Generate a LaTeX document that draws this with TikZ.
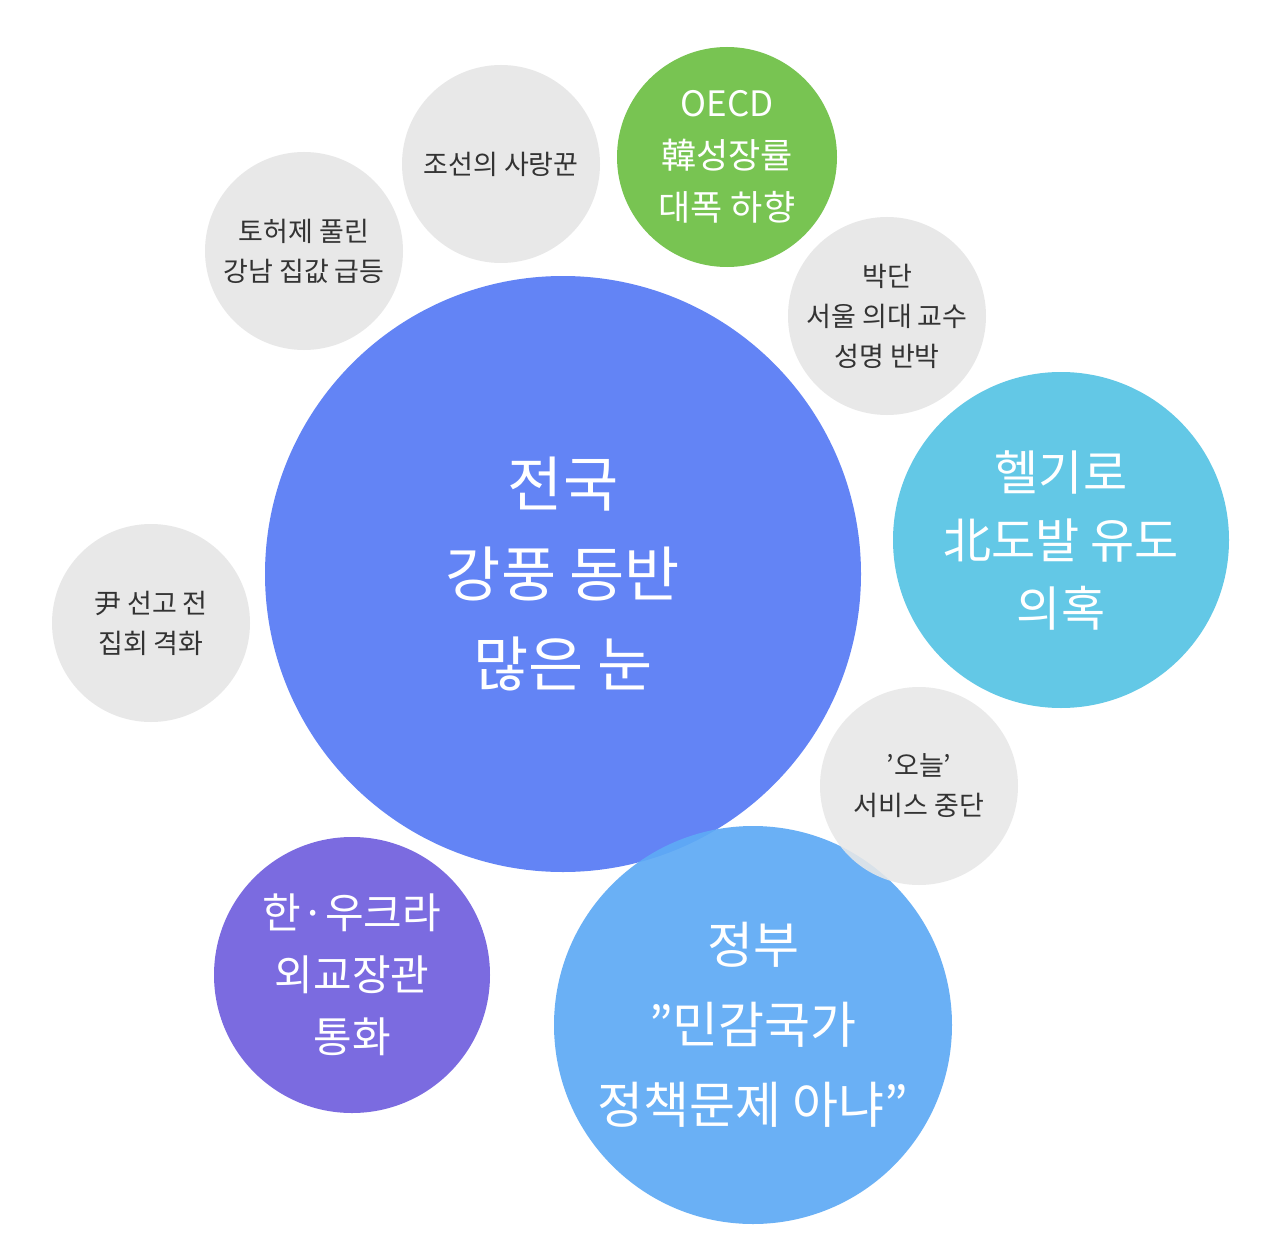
\documentclass[tikz,border=0pt]{standalone}
\usepackage{fontspec}
\setmainfont{Noto Sans CJK KR}
\definecolor{mainb}{HTML}{6384F5}
\definecolor{grn}{HTML}{78C452}
\definecolor{gry}{HTML}{E8E8E8}
\definecolor{cyan1}{HTML}{63C8E6}
\definecolor{blu2}{HTML}{5EAAF5}
\definecolor{purp}{HTML}{7B6BE0}
\definecolor{txt}{HTML}{333333}
\begin{document}
\begin{tikzpicture}[x=1pt,y=-1pt,
  bub/.style={circle,inner sep=0pt,align=center},
  gb/.style={bub,fill=gry,text=txt,font=\fontsize{27}{40}\selectfont,minimum size=198pt}]
\useasboundingbox (0,0) rectangle (1288,1260);
\fill[white] (0,0) rectangle (1288,1260);
\node[bub,fill=mainb,minimum size=596pt,text=white,font=\fontsize{60}{90}\selectfont] (main) at (563,574) {전국\\강풍 동반\\많은 눈};
\node[bub,fill=blu2,fill opacity=0.92,text opacity=1,minimum size=398pt,text=white,font=\fontsize{50}{80}\selectfont] (gov) at (753,1025) {정부\\"민감국가\\정책문제 아냐"};
\node[gb,fill opacity=0.88,text opacity=1] (today) at (919,786) {'오늘'\\서비스 중단};
\node[bub,fill=grn,minimum size=220pt,text=white,font=\fontsize{35}{52}\selectfont] (oecd) at (727,157) {OECD\\韓성장률\\대폭 하향};
\node[gb] (joseon) at (501,164) {조선의 사랑꾼};
\node[gb] (toheo) at (304,251) {토허제 풀린\\강남 집값 급등};
\node[gb] (bakdan) at (887,316) {박단\\서울 의대 교수\\성명 반박};
\node[bub,fill=cyan1,minimum size=336pt,text=white,font=\fontsize{48}{68}\selectfont] (heli) at (1061,540) {헬기로\\北도발 유도\\의혹};
\node[gb] (yoon) at (151,623) {尹 선고 전\\집회 격화};
\node[bub,fill=purp,minimum size=276pt,text=white,font=\fontsize{42}{62}\selectfont] (ukr) at (352,975) {한·우크라\\외교장관\\통화};
\end{tikzpicture}
\end{document}
